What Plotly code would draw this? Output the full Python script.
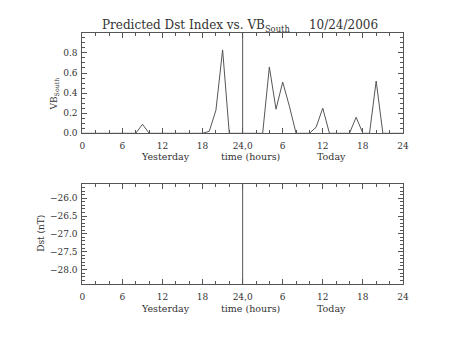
import plotly.graph_objects as go

# Hourly VB_South over yesterday (0-24) and today (24-48)
hours = list(range(0, 49))
vb_south = [
    0, 0, 0, 0, 0, 0, 0, 0, 0, 0.09,      # 0-9
    0, 0, 0, 0, 0, 0, 0, 0, 0, 0.02,      # 10-19
    0.23, 0.83, 0, 0, 0, 0, 0, 0, 0.66, 0.24,  # 20-29
    0.51, 0.27, 0, 0, 0, 0.06, 0.25, 0, 0, 0,  # 30-39
    0, 0.16, 0, 0, 0.52, 0, 0, 0, 0,      # 40-48
]

midnight = 24
tick_vals = [0, 6, 12, 18, 24, 30, 36, 42, 48]
tick_text = ["0", "6", "12", "18", "24,0", "6", "12", "18", "24"]
vb_ticks = [0.0, 0.2, 0.4, 0.6, 0.8]
dst_ticks = [-26.0, -26.5, -27.0, -27.5, -28.0]

FONT = "DejaVu Serif"
INK = "#555555"
TEXT = "#333333"

fig = go.Figure()
fig.add_trace(go.Scatter(x=hours, y=vb_south, mode="lines",
                         line=dict(color=INK, width=1),
                         xaxis="x", yaxis="y", showlegend=False))
# empty Dst panel
fig.add_trace(go.Scatter(x=[], y=[], mode="lines", xaxis="x2", yaxis="y2",
                         showlegend=False))

xdom = [81 / 453, 408 / 453]
top_dom = [(340 - 135.3) / 340, (340 - 33.3) / 340]
bot_dom = [(340 - 288) / 340, (340 - 186.7) / 340]

axis_common = dict(showline=True, linecolor=INK, linewidth=1, mirror="ticks",
                   ticks="inside", tickcolor=INK, ticklen=5, showgrid=False,
                   zeroline=False, tickfont=dict(family=FONT, size=9, color=TEXT))

xaxis_cfg = dict(axis_common, range=[0, 48], tickvals=tick_vals, ticktext=tick_text,
                 domain=xdom, ticklabelstandoff=4,
                 minor=dict(ticks="inside", dtick=2, ticklen=3, tickcolor=INK))

fig.update_layout(
    width=453, height=340,
    margin=dict(l=0, r=0, t=0, b=0),
    paper_bgcolor="white", plot_bgcolor="white",
    xaxis=dict(xaxis_cfg, anchor="y"),
    yaxis=dict(axis_common, range=[0, 1.0], domain=top_dom, anchor="x",
               tickvals=vb_ticks, tickformat=".1f", ticklabelstandoff=2,
               minor=dict(ticks="inside", dtick=0.05, ticklen=3, tickcolor=INK)),
    xaxis2=dict(xaxis_cfg, anchor="y2"),
    yaxis2=dict(axis_common, range=[-28.4, -25.6], domain=bot_dom, anchor="x2",
                tickvals=dst_ticks, tickformat=".1f", ticklabelstandoff=2,
                minor=dict(ticks="inside", dtick=0.1, ticklen=3, tickcolor=INK)),
)

for xr, yr in (("x", "y domain"), ("x2", "y2 domain")):
    fig.add_shape(type="line", xref=xr, yref=yr, x0=midnight, x1=midnight,
                  y0=0, y1=1, line=dict(color=INK, width=1))


def label(text, xpix, ypix, size=9, angle=0):
    fig.add_annotation(text=text, xref="paper", yref="paper",
                       x=xpix / 453, y=(340 - ypix) / 340,
                       xanchor="center", yanchor="middle", textangle=angle,
                       showarrow=False, font=dict(family=FONT, size=size, color=TEXT))


label("Predicted Dst Index vs. VB<sub>South</sub>\u00a0\u00a0\u00a0\u00a0 10/24/2006",
      242, 26, size=12)

for ypix in (159, 313):
    for xpix, txt in ((166, "Yesterday"), (253, "time (hours)"), (335, "Today")):
        label(txt, xpix, ypix, size=9.5)

label("VB<sub>South</sub>", 53, 95, angle=-90)
label("Dst (nT)", 38, 237, angle=-90)

fig.write_html("out.html")
